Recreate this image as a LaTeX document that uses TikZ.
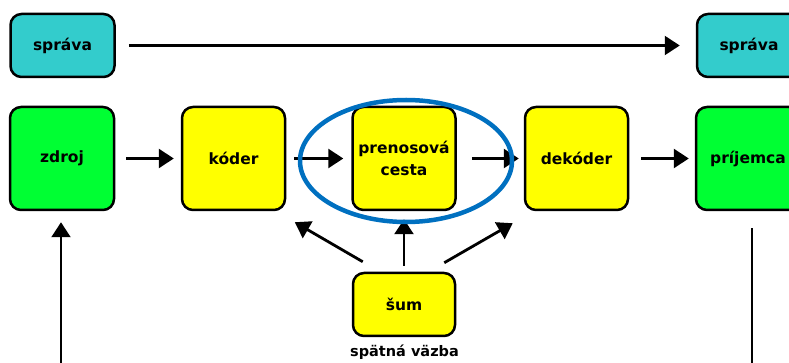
\documentclass[tikz,border=0pt]{standalone}
\usepackage{fontspec}
\setmainfont{DejaVu Sans}
\usetikzlibrary{arrows.meta}

\definecolor{msgcyan}{RGB}{51,204,204}
\definecolor{endgreen}{RGB}{0,255,51}
\definecolor{midyellow}{RGB}{255,255,0}
\definecolor{ringblue}{RGB}{0,112,192}

\tikzset{
  box/.style={draw=black,line width=2.5bp,rounded corners=11bp,align=center,
    font=\fontsize{15.5bp}{22bp}\selectfont\bfseries,inner sep=0pt},
  msgbox/.style={box,fill=msgcyan,minimum width=104bp,minimum height=63bp},
  endbox/.style={box,fill=endgreen,minimum width=104bp,minimum height=103bp},
  midbox/.style={box,fill=midyellow,minimum width=103bp,minimum height=103bp},
  flow/.style={black,line width=2.8bp,-{Triangle[length=15bp,width=19bp]}},
}

\begin{document}
\begin{tikzpicture}[>=latex,line join=bevel,]
\clip (0bp,0bp) rectangle (789bp,363bp);
%%
\node (node_0) at (62.5bp,317.5bp) [msgbox] {správa};
  \node (node_1) at (749bp,317.5bp) [msgbox] {správa};
  \node (node_2) at (62bp,204.5bp) [endbox] {zdroj};
  \node (node_3) at (233.5bp,204.5bp) [midbox] {kóder};
  \node (node_4) at (404bp,204.5bp) [midbox] {prenosová\\cesta};
  \node (node_5) at (576.5bp,204.5bp) [midbox] {dekóder};
  \node (node_6) at (748bp,204.5bp) [endbox] {príjemca};
  \node (node_7) at (404bp,58.5bp) [box,fill=midyellow,minimum width=102bp,minimum height=63bp] {šum};
  \node (node_8) at (404.5bp,11bp) [font=\fontsize{14.5bp}{17bp}\selectfont\bfseries] {spätná väzba};
  \draw [flow,line width=2.3bp,shorten <=13bp,shorten >=16bp] (node_0) -- (node_1);
  \draw [flow,shorten <=11bp,shorten >=7bp] (node_2) -- (node_3);
  \draw [flow,shorten <=8bp,shorten >=8bp] (node_3) -- (node_4);
  \draw [flow,shorten <=15bp,shorten >=5bp] (node_4) -- (node_5);
  \draw [flow,shorten <=12bp,shorten >=6bp] (node_5) -- (node_6);
  \draw [flow] ([xshift=11bp,yshift=10bp]node_7.north west) -- ([xshift=8.5bp,yshift=-11bp]node_3.south east);
  \draw [flow] ([yshift=6bp]node_7.north) -- ([yshift=-8bp]node_4.south);
  \draw [flow] ([xshift=-12bp,yshift=9bp]node_7.north east) -- ([xshift=-11bp,yshift=-12bp]node_5.south west);
  \draw [flow,line width=2bp] ([xshift=4bp,yshift=-17bp]node_6.south) -- ++(0bp,-135.3bp) -| ([xshift=-1bp,yshift=-11bp]node_2.south);
  \draw [ringblue,line width=4.5bp] (406bp,202bp) ellipse [x radius=106bp,y radius=61bp];
%
\end{tikzpicture}
\end{document}
